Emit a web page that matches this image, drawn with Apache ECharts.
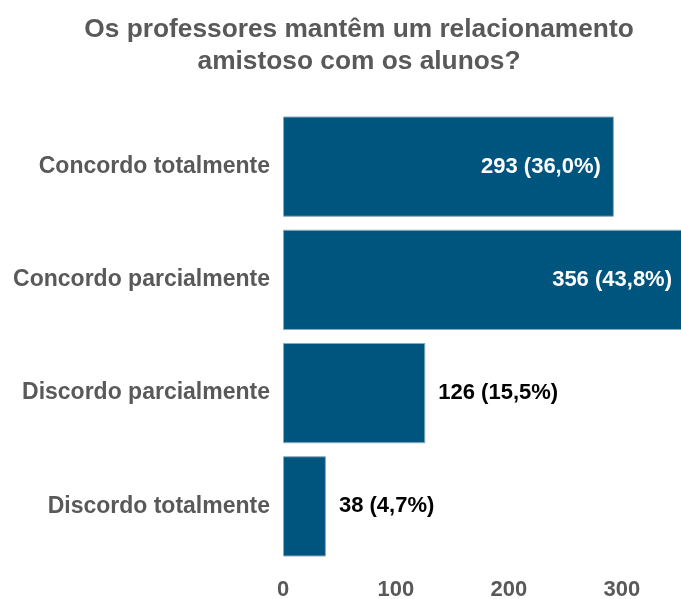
<!DOCTYPE html>
<html>
<head>
<meta charset="utf-8">
<script src="https://cdn.jsdelivr.net/npm/echarts@6/dist/echarts.min.js"></script>
<style>html,body{margin:0;padding:0;background:#fff}#c{width:681px;height:599px}</style>
</head>
<body>
<div id="c"></div>
<script>
var titleText = 'Os professores mantêm um relacionamento\namistoso com os alunos?';
var categories = ['Concordo totalmente', 'Concordo parcialmente', 'Discordo parcialmente', 'Discordo totalmente'];
var values = [293, 356, 126, 38];
var percents = ['36,0%', '43,8%', '15,5%', '4,7%'];
var insideLabel = [true, true, false, false];
var xTicks = [0, 100, 200, 300];

var FONT = '"Liberation Sans", Arial, sans-serif';
var chart = echarts.init(document.getElementById('c'), null, {renderer: 'canvas'});
var data = values.map(function (v, i) {
  return {
    value: v,
    label: {
      show: true,
      position: insideLabel[i] ? 'insideRight' : 'right',
      distance: 13,
      color: insideLabel[i] ? '#ffffff' : '#000000',
      fontFamily: FONT,
      fontWeight: 'bold',
      fontSize: 22,
      formatter: v + ' (' + percents[i] + ')'
    }
  };
});
chart.setOption({
  animation: false,
  title: {
    text: titleText,
    left: 354,
    top: 9,
    textAlign: 'center',
    textStyle: {
      fontFamily: FONT, fontWeight: 'bold', fontSize: 26.3, color: '#595959', lineHeight: 32
    }
  },
  grid: {left: 283, top: 110, height: 453, right: -4, containLabel: false, outerBoundsMode: 'none'},
  xAxis: {
    type: 'value', min: 0, max: 356, interval: 100,
    splitLine: {show: false},
    axisLine: {show: false},
    axisTick: {show: false},
    axisLabel: {
      margin: 16, showMaxLabel: false,
      fontFamily: FONT, fontWeight: 'bold', fontSize: 22, color: '#595959',
      formatter: function (v) { return xTicks.indexOf(v) >= 0 ? String(v) : ''; }
    }
  },
  yAxis: {
    type: 'category', data: categories, inverse: true,
    axisLine: {show: false},
    axisTick: {show: false},
    axisLabel: {
      margin: 13, fontFamily: FONT, fontWeight: 'bold', fontSize: 23, color: '#595959'
    }
  },
  series: [{
    type: 'bar',
    data: data,
    barCategoryGap: '11.5%',
    itemStyle: {color: '#00557F', borderColor: '#8aaac0', borderWidth: 1}
  }]
});
</script>
</body>
</html>
